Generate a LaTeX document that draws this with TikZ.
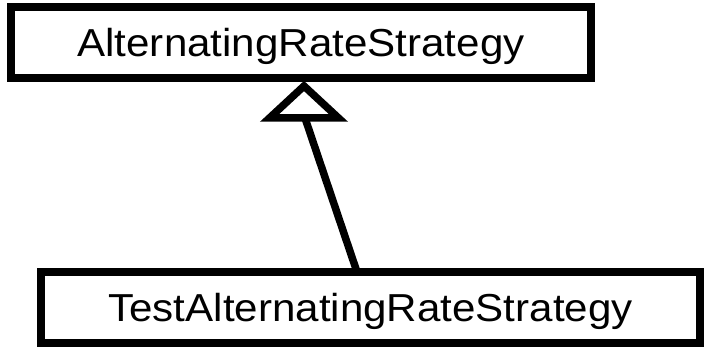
\documentclass[tikz,border=0pt]{standalone}
\usepackage{fontspec}
\setmainfont[FakeStretch=1.08]{Liberation Sans}
\begin{document}
\begin{tikzpicture}[x=1pt,y=-1pt,
  classbox/.style={draw=black,line width=8pt,fill=white,inner sep=0pt,
    font=\fontsize{39}{46}\selectfont,text height=28pt,text depth=-2pt},
  edge/.style={draw=black,line width=7.5pt},
  inherit/.style={draw=black,line width=7.5pt,fill=white,line join=miter}]
\useasboundingbox (0,0) rectangle (704,347);
\node[classbox,minimum width=580pt,minimum height=71pt] (base) at (301,42.5) {AlternatingRateStrategy};
\node[classbox,minimum width=659pt,minimum height=71pt] (derived) at (370.5,307.5) {TestAlternatingRateStrategy};
\coordinate (apex) at (304,86);
\coordinate (tribase) at (305,118);
\coordinate (foot) at (357,272);
\draw[edge] (foot) -- (tribase);
\draw[inherit] (apex) -- (338.5,118) -- (269.5,118) -- cycle;
\end{tikzpicture}
\end{document}
